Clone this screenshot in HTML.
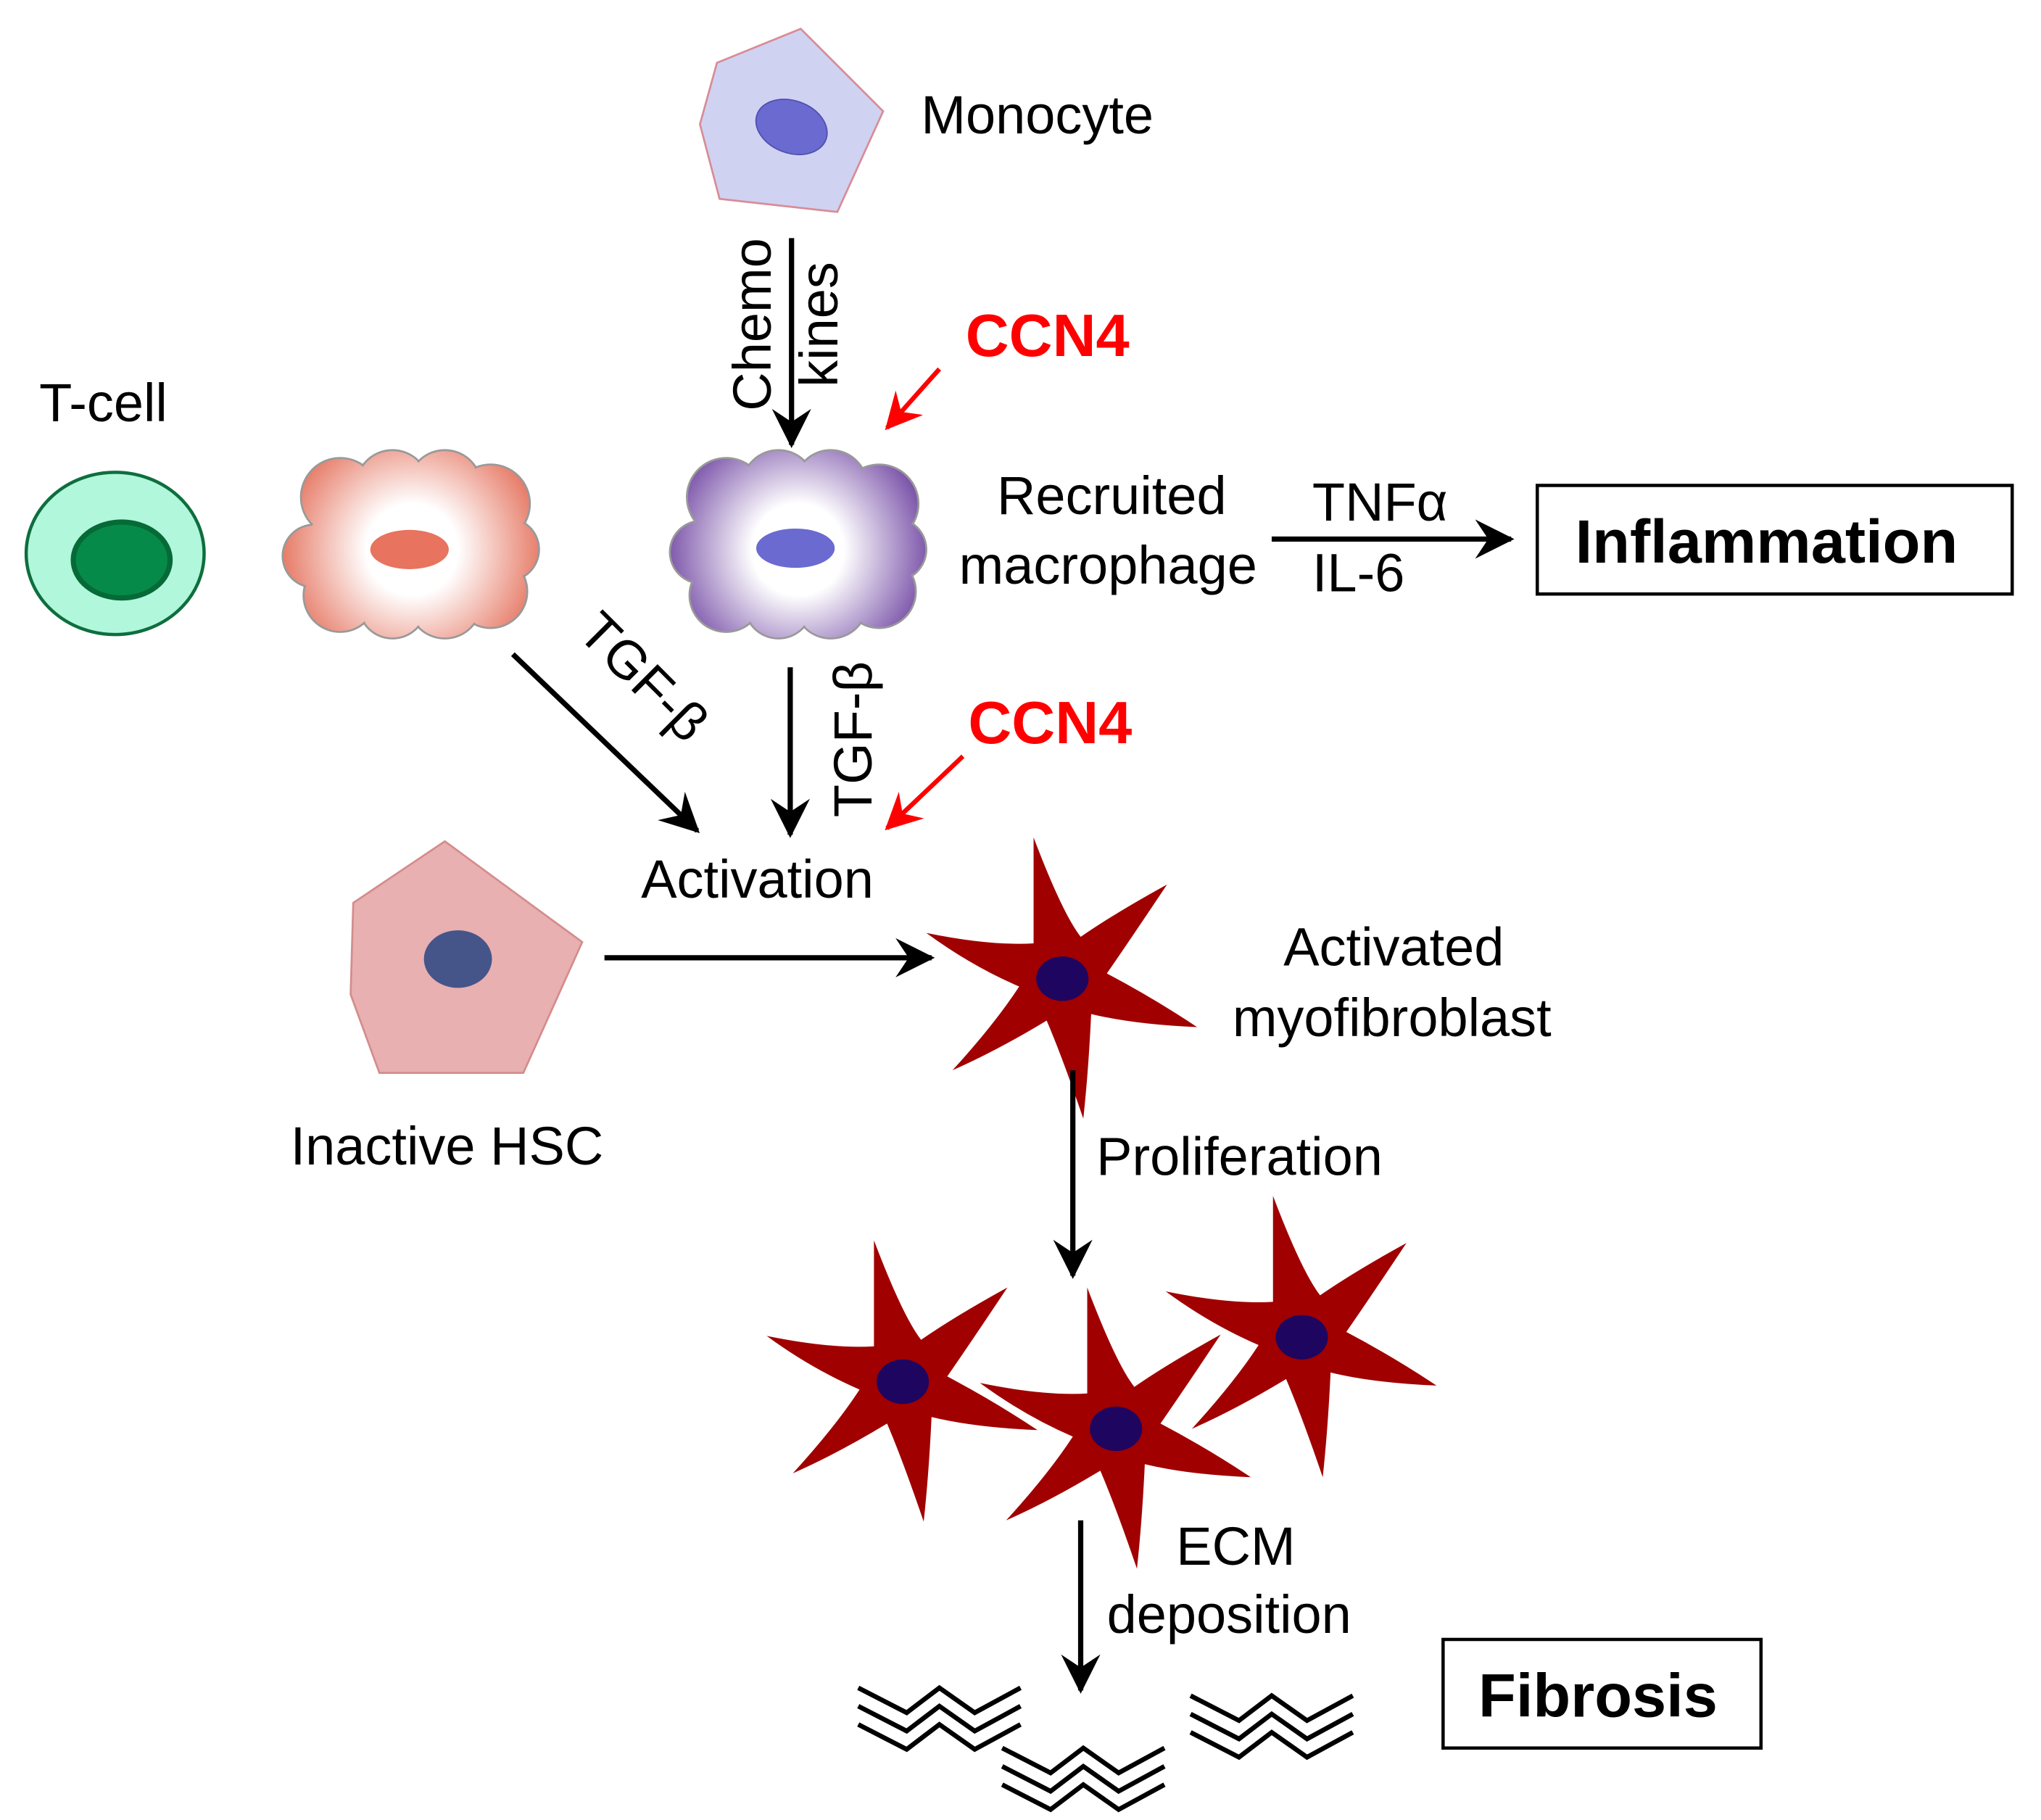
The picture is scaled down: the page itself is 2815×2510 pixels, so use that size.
<!DOCTYPE html>
<html><head><meta charset="utf-8"><style>
html,body{margin:0;padding:0;background:#fff;}
svg{display:block;}
text{font-family:"Liberation Sans",Arial,sans-serif;fill:#000;}
</style></head><body>
<svg width="2815" height="2510" viewBox="0 0 1560 1391" xmlns="http://www.w3.org/2000/svg">
<defs>
<marker id="a" viewBox="0 0 12 12" refX="11" refY="6" markerWidth="30" markerHeight="30" orient="auto" markerUnits="userSpaceOnUse">
<path d="M0,0 L12,6 L0,12 L4,6 z" fill="#000"/></marker>
<marker id="ar" viewBox="0 0 12 12" refX="11" refY="6" markerWidth="28" markerHeight="28" orient="auto" markerUnits="userSpaceOnUse">
<path d="M0,0 L12,6 L0,12 L4,6 z" fill="#f00"/></marker>
<radialGradient id="gp" gradientUnits="userSpaceOnUse" cx="315" cy="420" r="100">
<stop offset="0" stop-color="#fff"/><stop offset="0.35" stop-color="#fff"/><stop offset="1" stop-color="#e67a66"/></radialGradient>
<radialGradient id="gm" gradientUnits="userSpaceOnUse" cx="610" cy="420" r="100">
<stop offset="0" stop-color="#fff"/><stop offset="0.35" stop-color="#fff"/><stop offset="1" stop-color="#7c55aa"/></radialGradient>
<path id="star" d="M-22,-108 Q0,-50 14,-32 Q40,-50 80,-72 Q52,-30 34,-4 Q70,15 103,37 Q55,35 22,27 Q20,70 16,107 Q0,60 -12,32 Q-50,55 -84,70 Q-52,35 -33,6 Q-70,-10 -104,-35 Q-55,-25 -22,-27 Q-22,-70 -22,-108 Z" fill="#a00000"/>
<g id="zz" fill="none" stroke="#000" stroke-width="3.6">
<path d="M0,0 L37,19 L62,0 L89,19 L124,0"/>
<path d="M0,14 L37,33 L62,14 L89,33 L124,14"/>
<path d="M0,28 L37,47 L62,28 L89,47 L124,28"/>
</g>
</defs>

<polygon points="548,48 612,22 675,85 640,162 550,152 535,95" fill="#d0d2f2" stroke="#d88c96" stroke-width="1.5"/>
<ellipse cx="605" cy="97" rx="28" ry="20" transform="rotate(20 605 97)" fill="#6a6ad0" stroke="#5050b0"/>
<text x="704" y="102" font-size="41">Monocyte</text>

<line x1="605" y1="182" x2="605" y2="340" stroke="#000" stroke-width="4" marker-end="url(#a)"/>
<text transform="translate(589,248) rotate(-90)" font-size="41" text-anchor="middle">Chemo</text>
<text transform="translate(640,248) rotate(-90)" font-size="41" text-anchor="middle">kines</text>

<text x="738" y="272" font-size="46" font-weight="bold" style="fill:#f00">CCN4</text>
<line x1="718" y1="282" x2="678" y2="327" stroke="#f00" stroke-width="3.5" marker-end="url(#ar)"/>

<text x="30" y="322" font-size="41">T-cell</text>
<ellipse cx="88" cy="423" rx="68" ry="62" fill="#b0f7dc" stroke="#0e6e3e" stroke-width="2.5"/>
<ellipse cx="93" cy="428" rx="37" ry="29" fill="#068a4a" stroke="#066a36" stroke-width="4"/>

<g stroke="#999" stroke-width="1.5" fill="url(#gp)">
<circle cx="260" cy="380" r="30"/><circle cx="300" cy="372" r="28"/><circle cx="340" cy="372" r="28"/><circle cx="375" cy="385" r="30"/>
<circle cx="388" cy="420" r="24"/><circle cx="375" cy="452" r="28"/><circle cx="340" cy="460" r="28"/><circle cx="300" cy="462" r="26"/>
<circle cx="260" cy="455" r="28"/><circle cx="240" cy="425" r="24"/>
</g>
<g fill="url(#gp)">
<circle cx="260" cy="380" r="29"/><circle cx="300" cy="372" r="27"/><circle cx="340" cy="372" r="27"/><circle cx="375" cy="385" r="29"/>
<circle cx="388" cy="420" r="23"/><circle cx="375" cy="452" r="27"/><circle cx="340" cy="460" r="27"/><circle cx="300" cy="462" r="25"/>
<circle cx="260" cy="455" r="27"/><circle cx="240" cy="425" r="23"/><ellipse cx="313" cy="420" rx="80" ry="50"/>
</g>
<ellipse cx="313" cy="420" rx="30" ry="15" fill="#e8735e"/>

<g stroke="#999" stroke-width="1.5" fill="url(#gm)">
<circle cx="555" cy="380" r="30"/><circle cx="595" cy="372" r="28"/><circle cx="635" cy="372" r="28"/><circle cx="672" cy="385" r="30"/>
<circle cx="684" cy="420" r="24"/><circle cx="672" cy="452" r="28"/><circle cx="635" cy="460" r="28"/><circle cx="595" cy="462" r="26"/>
<circle cx="555" cy="455" r="28"/><circle cx="536" cy="422" r="24"/>
</g>
<g fill="url(#gm)">
<circle cx="555" cy="380" r="29"/><circle cx="595" cy="372" r="27"/><circle cx="635" cy="372" r="27"/><circle cx="672" cy="385" r="29"/>
<circle cx="684" cy="420" r="23"/><circle cx="672" cy="452" r="27"/><circle cx="635" cy="460" r="27"/><circle cx="595" cy="462" r="25"/>
<circle cx="555" cy="455" r="27"/><circle cx="536" cy="422" r="23"/><ellipse cx="610" cy="420" rx="80" ry="50"/>
</g>
<ellipse cx="608" cy="419" rx="30" ry="15" fill="#6a6ad0"/>

<text x="762" y="393" font-size="41">Recruited</text>
<text x="733" y="446" font-size="41">macrophage</text>
<text x="1003" y="398" font-size="41">TNFα</text>
<text x="1003" y="452" font-size="41">IL-6</text>
<line x1="972" y1="412" x2="1155" y2="412" stroke="#000" stroke-width="4" marker-end="url(#a)"/>
<rect x="1175" y="371" width="363" height="83" fill="none" stroke="#000" stroke-width="2.5"/>
<text x="1204" y="430" font-size="47" font-weight="bold">Inflammation</text>

<line x1="392" y1="500" x2="533" y2="635" stroke="#000" stroke-width="4" marker-end="url(#a)"/>
<text transform="translate(440,485) rotate(45)" font-size="41">TGF-β</text>
<line x1="604" y1="510" x2="604" y2="638" stroke="#000" stroke-width="4" marker-end="url(#a)"/>
<text transform="translate(666,565) rotate(-90)" font-size="41" text-anchor="middle">TGF-β</text>
<text x="740" y="568" font-size="46" font-weight="bold" style="fill:#f00">CCN4</text>
<line x1="736" y1="578" x2="678" y2="633" stroke="#f00" stroke-width="3.5" marker-end="url(#ar)"/>
<text x="490" y="686" font-size="41">Activation</text>

<polygon points="270,690 340,643 445,720 400,820 290,820 268,760" fill="#e8b0b0" stroke="#d48c8c" stroke-width="1.5"/>
<ellipse cx="350" cy="733" rx="26" ry="22" fill="#45558a"/>
<text x="222" y="890" font-size="41">Inactive HSC</text>
<line x1="462" y1="732" x2="712" y2="732" stroke="#000" stroke-width="4" marker-end="url(#a)"/>

<use href="#star" transform="translate(812,748)"/>
<ellipse cx="812" cy="748" rx="20" ry="17" fill="#1e0560"/>
<text x="981" y="738" font-size="41">Activated</text>
<text x="942" y="792" font-size="41">myofibroblast</text>

<line x1="820" y1="818" x2="820" y2="975" stroke="#000" stroke-width="4" marker-end="url(#a)"/>
<text x="838" y="898" font-size="41">Proliferation</text>

<use href="#star" transform="translate(690,1056)"/>
<ellipse cx="690" cy="1056" rx="20" ry="17" fill="#1e0560"/>
<use href="#star" transform="translate(995,1022)"/>
<ellipse cx="995" cy="1022" rx="20" ry="17" fill="#1e0560"/>
<use href="#star" transform="translate(853,1092)"/>
<ellipse cx="853" cy="1092" rx="20" ry="17" fill="#1e0560"/>

<line x1="826" y1="1162" x2="826" y2="1292" stroke="#000" stroke-width="4" marker-end="url(#a)"/>
<text x="899" y="1196" font-size="41">ECM</text>
<text x="846" y="1248" font-size="41">deposition</text>

<use href="#zz" transform="translate(656,1290)"/>
<use href="#zz" transform="translate(766,1336)"/>
<use href="#zz" transform="translate(910,1296)"/>

<rect x="1103" y="1253" width="243" height="83" fill="none" stroke="#000" stroke-width="2.5"/>
<text x="1130" y="1312" font-size="47" font-weight="bold">Fibrosis</text>
</svg>
</body></html>
